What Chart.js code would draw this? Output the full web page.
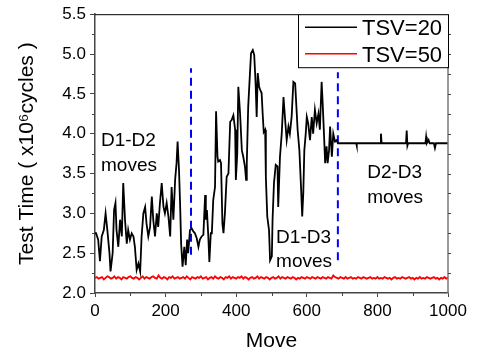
<!DOCTYPE html>
<html>
<head>
<meta charset="utf-8">
<script src="https://cdn.jsdelivr.net/npm/chart.js@4.4.1/dist/chart.umd.min.js"></script>
<style>
    body { margin: 0; background: #fff; }
    #grafica { display: block; }
</style>
</head>
<body>
<canvas id="grafica" width="477" height="358"></canvas>
<script>
// TSV=20 (leido a ojo de la figura)
const movimientosTsv20 = [
    0, 3, 9, 14, 19, 25, 30, 35, 41, 44, 50, 54, 58, 61, 66, 71, 76, 80, 85, 90,
    94, 99, 104, 109, 113, 118, 123, 128, 132, 137, 142, 146, 151, 156, 161, 165, 170, 175, 179, 184,
    189, 194, 198, 203, 208, 213, 217, 222, 227, 231, 234, 238, 241, 244, 248, 253, 257, 261, 264, 269,
    274, 279, 283, 288, 293, 297, 302, 307, 312, 314, 317, 321, 324, 328, 331, 335, 340, 343, 347, 349,
    354, 357, 361, 364, 368, 373, 378, 383, 387, 392, 397, 399, 403, 406, 411, 416, 420, 425, 428, 430,
    434, 439, 442, 447, 451, 455, 458, 461, 465, 468, 472, 475, 478, 482, 484, 488, 493, 496, 501, 503,
    507, 512, 517, 519, 524, 529, 534, 538, 543, 548, 552, 557, 562, 567, 571, 574, 579, 584, 587, 590,
    593, 597, 600, 604, 609, 614, 618, 623, 628, 633, 637, 642, 645, 649, 652, 656, 659, 663, 666, 671,
    675, 680, 685, 688, 740, 741, 742, 808, 810, 812, 881, 883, 885, 887, 936, 938, 940, 945, 948, 960,
    963, 966, 1000
];
const tiempoTsv20 = [
    2.75, 2.75, 2.67, 2.40, 2.71, 2.79, 3.00, 2.79, 2.50, 2.27, 2.50, 3.04, 3.13, 2.79, 2.58, 2.92, 2.71, 3.38, 2.92, 2.62,
    2.79, 2.67, 2.75, 2.71, 2.58, 2.29, 2.37, 2.27, 2.71, 3.00, 3.08, 2.87, 2.71, 2.83, 3.21, 2.92, 2.71, 3.00, 2.83, 3.13,
    3.38, 3.08, 3.00, 3.13, 2.96, 2.71, 3.33, 2.92, 3.42, 3.63, 3.90, 3.54, 3.13, 2.62, 2.33, 2.58, 2.35, 2.67, 2.50, 2.79,
    2.81, 2.77, 2.75, 2.69, 2.58, 2.67, 2.71, 2.73, 3.23, 2.92, 3.04, 2.71, 2.39, 2.75, 2.75, 3.17, 3.33, 4.28, 3.71, 3.65,
    3.67, 3.63, 2.87, 2.75, 3.00, 3.46, 3.50, 4.15, 4.17, 4.23, 4.05, 3.42, 3.75, 4.59, 4.25, 3.79, 3.71, 3.58, 3.42, 3.63,
    4.34, 4.76, 5.01, 5.05, 4.99, 4.63, 4.21, 4.76, 4.59, 4.55, 4.51, 4.25, 4.02, 4.05, 3.46, 2.96, 2.79, 2.41, 2.46, 2.92,
    3.38, 3.61, 3.59, 3.08, 3.71, 4.00, 4.46, 4.21, 3.92, 4.09, 4.00, 4.21, 4.65, 4.63, 4.30, 4.05, 3.79, 3.29, 2.96, 3.25,
    3.79, 4.00, 4.21, 4.13, 3.92, 4.21, 4.00, 4.30, 4.13, 4.25, 4.05, 4.65, 4.38, 3.96, 3.63, 3.84, 3.63, 3.79, 4.09, 3.71,
    4.00, 3.90, 3.92, 3.88, 3.88, 3.85, 3.88, 3.88, 4.00, 3.88, 3.88, 4.04, 3.85, 3.88, 3.88, 3.96, 3.88, 3.92, 3.88, 3.88,
    3.82, 3.88, 3.88
];

// TSV=50, un punto cada 5 movimientos
const movimientosTsv50 = Array.from({ length: 201 }, (_, i) => i * 5);
const tiempoTsv50 = [
    2.19, 2.20, 2.18, 2.19, 2.20, 2.17, 2.19, 2.21, 2.20, 2.18,
    2.19, 2.21, 2.18, 2.20, 2.19, 2.17, 2.20, 2.19, 2.18, 2.20,
    2.21, 2.19, 2.18, 2.20, 2.19, 2.17, 2.19, 2.21, 2.18, 2.20,
    2.19, 2.18, 2.20, 2.21, 2.19, 2.18, 2.22, 2.19, 2.18, 2.20,
    2.19, 2.17, 2.20, 2.19, 2.21, 2.18, 2.19, 2.20, 2.18, 2.19,
    2.20, 2.18, 2.21, 2.19, 2.17, 2.20, 2.19, 2.18, 2.20, 2.19,
    2.21, 2.18, 2.19, 2.20, 2.17, 2.19, 2.20, 2.18, 2.21, 2.19,
    2.18, 2.20, 2.19, 2.17, 2.20, 2.19, 2.21, 2.18, 2.20, 2.19,
    2.18, 2.20, 2.19, 2.21, 2.18, 2.20, 2.19, 2.17, 2.19, 2.20,
    2.18, 2.19, 2.21, 2.18, 2.20, 2.19, 2.18, 2.20, 2.19, 2.17,
    2.19, 2.20, 2.18, 2.19, 2.21, 2.18, 2.20, 2.19, 2.18, 2.20,
    2.19, 2.18, 2.20, 2.19, 2.17, 2.19, 2.18, 2.20, 2.19, 2.18,
    2.20, 2.19, 2.18, 2.20, 2.19, 2.18, 2.20, 2.19, 2.18, 2.20,
    2.19, 2.18, 2.20, 2.19, 2.18, 2.22, 2.20, 2.19, 2.18, 2.20,
    2.19, 2.18, 2.20, 2.18, 2.19, 2.20, 2.18, 2.19, 2.18, 2.20,
    2.19, 2.18, 2.20, 2.19, 2.18, 2.19, 2.20, 2.18, 2.19, 2.18,
    2.20, 2.18, 2.19, 2.18, 2.20, 2.19, 2.18, 2.19, 2.17, 2.19,
    2.20, 2.18, 2.19, 2.18, 2.20, 2.19, 2.18, 2.19, 2.20, 2.18,
    2.19, 2.17, 2.19, 2.18, 2.20, 2.18, 2.19, 2.18, 2.20, 2.19,
    2.18, 2.19, 2.20, 2.18, 2.19, 2.17, 2.19, 2.18, 2.20, 2.18,
    2.19
];

// lineas azules que separan las fases
const divisionMovimiento = [272, 688];
const divisionArriba = [4.82, 4.77];
const divisionAbajo = [2.48, 2.41];

const notasFase = [
    { lineas: ['D1-D2', 'moves'], x: 17, y: 3.84 },
    { lineas: ['D1-D3', 'moves'], x: 513, y: 2.63 },
    { lineas: ['D2-D3', 'moves'], x: 771, y: 3.44 }
];

const series = [
    { label: 'TSV=20', color: '#000000' },
    { label: 'TSV=50', color: '#ff0000' }
];

const fuente = 'Liberation Sans, Arial, sans-serif';

const aPuntos = (xs, ys) => xs.map((m, i) => ({ x: m, y: ys[i] }));

const datasetsDivision = divisionMovimiento.map((m, i) => ({
    label: 'div' + i,
    data: [{ x: m, y: divisionAbajo[i] }, { x: m, y: divisionArriba[i] }],
    borderColor: '#0000ff',
    borderWidth: 2,
    borderDash: [8, 5],
    pointRadius: 0
}));

const marcoYNotas = {
    id: 'marcoYNotas',
    afterDraw(chart) {
        const { ctx, chartArea: a, scales: { x, y } } = chart;
        const linea = (x1, y1, x2, y2) => {
            ctx.beginPath();
            ctx.moveTo(x1, y1);
            ctx.lineTo(x2, y2);
            ctx.stroke();
        };
        ctx.save();

        ctx.strokeStyle = '#000';
        ctx.lineWidth = 1;
        linea(a.left, a.top + 0.5, a.right, a.top + 0.5);
        ctx.strokeStyle = '#777';
        ctx.lineWidth = 1.5;
        linea(a.right, a.top, a.right, a.bottom);

        // ticks menores
        ctx.strokeStyle = '#444';
        ctx.lineWidth = 1;
        for (let v = 2.25; v < 5.5; v += 0.5) {
            const py = Math.round(y.getPixelForValue(v)) + 0.5;
            linea(a.left - 3, py, a.left, py);
        }
        for (let v = 2.25; v < 5.5; v += 0.25) {
            const py = Math.round(y.getPixelForValue(v)) + 0.5;
            linea(a.right, py, a.right + 3, py);
        }
        for (let m = 100; m < 1000; m += 200) {
            const px = Math.round(x.getPixelForValue(m)) + 0.5;
            linea(px, a.bottom, px, a.bottom + 3);
        }

        // notas de fase
        ctx.fillStyle = '#000';
        ctx.font = '19px ' + fuente;
        ctx.textAlign = 'left';
        ctx.textBaseline = 'alphabetic';
        notasFase.forEach(n => {
            const px = x.getPixelForValue(n.x);
            const py = y.getPixelForValue(n.y);
            n.lineas.forEach((t, i) => ctx.fillText(t, px, py + i * 24.5));
        });

        // leyenda
        const lx = 298, ly = a.top, lw = a.right - lx, lh = 53;
        ctx.fillStyle = '#fff';
        ctx.fillRect(lx, ly, lw, lh);
        ctx.strokeStyle = '#000';
        ctx.lineWidth = 1;
        ctx.strokeRect(lx + 0.5, ly + 0.5, lw, lh);
        ctx.font = '22px ' + fuente;
        series.forEach((s, i) => {
            const yy = ly + 13 + i * 26.5;
            ctx.strokeStyle = s.color;
            ctx.lineWidth = 1.5;
            linea(lx + 7, yy, lx + 59, yy);
            ctx.fillStyle = '#000';
            ctx.fillText(s.label, lx + 64, yy + 8);
        });
        ctx.restore();
    }
};

const grafica = new Chart(document.getElementById('grafica').getContext('2d'), {
    type: 'line',
    data: {
        datasets: [
            {
                label: series[1].label,
                data: aPuntos(movimientosTsv50, tiempoTsv50),
                borderColor: series[1].color,
                borderWidth: 1.8,
                pointRadius: 0
            },
            {
                label: series[0].label,
                data: aPuntos(movimientosTsv20, tiempoTsv20),
                borderColor: series[0].color,
                borderWidth: 1.8,
                pointRadius: 0
            },
            ...datasetsDivision
        ]
    },
    options: {
        responsive: false,
        animation: false,
        devicePixelRatio: 1,
        layout: { padding: { left: 0, top: 14, right: 29, bottom: 0 } },
        plugins: {
            legend: { display: false },
            tooltip: { enabled: false }
        },
        scales: {
            x: {
                type: 'linear',
                min: 0,
                max: 1000,
                afterFit: scale => { scale.height = 65; },
                ticks: {
                    stepSize: 200,
                    padding: 4,
                    color: '#000',
                    font: { family: fuente, size: 17 },
                    maxRotation: 0,
                    callback: v => String(v)
                },
                grid: { drawOnChartArea: false, tickLength: 4, color: '#444' },
                border: { color: '#444', width: 1.5 },
                title: {
                    display: true,
                    text: 'Move',
                    color: '#000',
                    font: { family: fuente, size: 21 },
                    padding: { top: 0, bottom: 4 }
                }
            },
            y: {
                min: 2,
                max: 5.5,
                afterFit: scale => { scale.width = 95; },
                ticks: {
                    stepSize: 0.5,
                    padding: 4,
                    color: '#000',
                    font: { family: fuente, size: 17 },
                    callback: v => v.toFixed(1)
                },
                grid: { drawOnChartArea: false, tickLength: 5, color: '#444' },
                border: { color: '#444', width: 1.5 },
                title: {
                    display: true,
                    text: 'Test Time ( x10\u2076cycles )',
                    color: '#000',
                    font: { family: fuente, size: 21 },
                    padding: { top: 15, bottom: 0 }
                }
            }
        }
    },
    plugins: [marcoYNotas]
});
</script>
</body>
</html>
